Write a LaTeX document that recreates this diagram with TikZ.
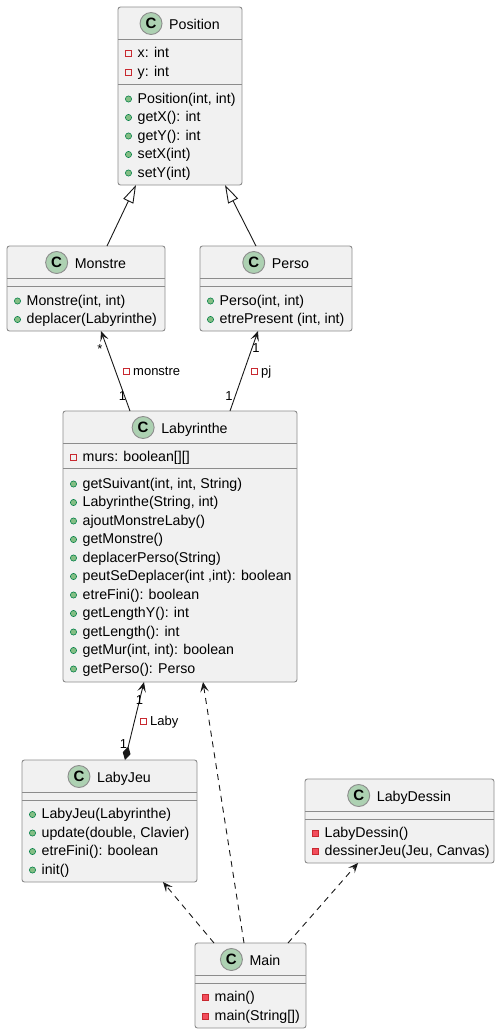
\documentclass[tikz,border=0pt]{standalone}
\usepackage{fontspec}
\setmainfont{Liberation Sans}
\usetikzlibrary{arrows.meta}
\definecolor{boxfill}{HTML}{F1F1F1}
\definecolor{boxline}{HTML}{8C8C8C}
\definecolor{arrline}{HTML}{181818}
\definecolor{spotfill}{HTML}{ADD1B2}
\definecolor{pubfill}{HTML}{84BE84}
\definecolor{publine}{HTML}{038048}
\definecolor{privline}{HTML}{C82930}
\definecolor{privfill}{HTML}{F24D5C}
\tikzset{
  cls/.style={draw=boxline, fill=boxfill, rectangle, rounded corners=2.5pt, line width=0.9pt, inner sep=0pt, outer sep=0pt},
  sepline/.style={draw=boxline, line width=0.9pt},
  member/.style={anchor=base west, inner sep=0pt, font=\fontsize{14.2pt}{16pt}\selectfont},
  ctitle/.style={anchor=base, inner sep=0pt, font=\fontsize{14.2pt}{16pt}\selectfont},
  spot/.style={circle, draw=boxline, fill=spotfill, line width=0.9pt, minimum size=22pt, inner sep=0pt, font=\fontsize{15pt}{15pt}\bfseries},
  lbl/.style={anchor=base, inner sep=0pt, font=\fontsize{13pt}{15pt}\selectfont},
  lbltext/.style={anchor=base west, inner sep=0pt, font=\fontsize{13pt}{15pt}\selectfont},
  conn/.style={draw=arrline, line width=0.9pt},
  navtip/.style={-{Stealth[length=10pt,width=8.5pt,inset=4.5pt]}},
  dep/.style={conn, navtip, dash pattern=on 6pt off 5pt},
}
\newcommand\clshead[4]{%
  \node[ctitle] (#1T) at (#2+14.5,#3+22) {#4};
  \node[spot] (#1C) at ([xshift=-18pt,yshift=5.5pt]#1T.base west) {C};
  \draw[sepline] ([yshift=-32pt]#1.north west) -- ([yshift=-32pt]#1.north east);}
\newcommand\secline[2]{%
  \draw[sepline] ([yshift=-#2pt]#1.north west) -- ([yshift=-#2pt]#1.north east);}
\newcommand\pubrow[4]{%
  \filldraw[fill=pubfill, draw=publine, line width=0.6pt] (#2+10.5,#3) circle (3.1pt);
  \node[member] (#1) at (#2+19.5,#3+4) {#4};}
\newcommand\privfld[4]{%
  \draw[draw=privline, line width=0.8pt] (#2+7.5,#3-3) rectangle (#2+13.5,#3+3);
  \node[member] (#1) at (#2+19.5,#3+4) {#4};}
\newcommand\privmth[4]{%
  \filldraw[fill=privfill, draw=privline, line width=0.6pt] (#2+7.5,#3-3) rectangle (#2+13.5,#3+3);
  \node[member] (#1) at (#2+19.5,#3+4) {#4};}
\newcommand\lblsq[2]{%
  \draw[draw=privline, line width=0.8pt] (#1-3,#2-3) rectangle (#1+3,#2+3);}
\begin{document}
\begin{tikzpicture}[x=1pt,y=-1pt]
\useasboundingbox (0,0) rectangle (500,1034);

% ---------- Position ----------
\node[cls, minimum width=124pt, minimum height=178pt] (position) at (180,96) {};
\clshead{position}{180}{7}{Position}
\secline{position}{77}
\privfld{posF1}{118}{53}{x: int}
\privfld{posF2}{118}{72}{y: int}
\pubrow{posM1}{118}{99}{Position(int, int)}
\pubrow{posM2}{118}{117.5}{getX(): int}
\pubrow{posM3}{118}{136}{getY(): int}
\pubrow{posM4}{118}{154.5}{setX(int)}
\pubrow{posM5}{118}{173}{setY(int)}

% ---------- Monstre ----------
\node[cls, minimum width=158pt, minimum height=85pt] (monstre) at (86,288.5) {};
\clshead{monstre}{86}{246}{Monstre}
\secline{monstre}{40}
\pubrow{monM1}{7}{301}{Monstre(int, int)}
\pubrow{monM2}{7}{319.5}{deplacer(Labyrinthe)}

% ---------- Perso ----------
\node[cls, minimum width=152pt, minimum height=85pt] (perso) at (276,288.5) {};
\clshead{perso}{276}{246}{Perso}
\secline{perso}{40}
\pubrow{perM1}{200}{301}{Perso(int, int)}
\pubrow{perM2}{200}{319.5}{etrePresent (int, int)}

% ---------- Labyrinthe ----------
\node[cls, minimum width=234pt, minimum height=271pt] (laby) at (180,546.5) {};
\clshead{laby}{180}{411}{Labyrinthe}
\secline{laby}{57}
\privfld{labF1}{63}{457}{murs: boolean[][]}
\pubrow{labM1}{63}{484}{getSuivant(int, int, String)}
\pubrow{labM2}{63}{502.5}{Labyrinthe(String, int)}
\pubrow{labM3}{63}{521}{ajoutMonstreLaby()}
\pubrow{labM4}{63}{539.5}{getMonstre()}
\pubrow{labM5}{63}{558}{deplacerPerso(String)}
\pubrow{labM6}{63}{576.5}{peutSeDeplacer(int ,int): boolean}
\pubrow{labM7}{63}{595}{etreFini(): boolean}
\pubrow{labM8}{63}{613.5}{getLengthY(): int}
\pubrow{labM9}{63}{632}{getLength(): int}
\pubrow{labM10}{63}{650.5}{getMur(int, int): boolean}
\pubrow{labM11}{63}{669}{getPerso(): Perso}

% ---------- LabyJeu ----------
\node[cls, minimum width=175pt, minimum height=122pt] (labyjeu) at (109.5,821) {};
\clshead{labyjeu}{109.5}{760}{LabyJeu}
\secline{labyjeu}{40}
\pubrow{ljM1}{22}{814.5}{LabyJeu(Labyrinthe)}
\pubrow{ljM2}{22}{833}{update(double, Clavier)}
\pubrow{ljM3}{22}{851.5}{etreFini(): boolean}
\pubrow{ljM4}{22}{870}{init()}

% ---------- LabyDessin ----------
\node[cls, minimum width=189pt, minimum height=84pt] (labydessin) at (399.5,821) {};
\clshead{labydessin}{399.5}{779}{LabyDessin}
\secline{labydessin}{40}
\privmth{ldM1}{305}{833}{LabyDessin()}
\privmth{ldM2}{305}{851.5}{dessinerJeu(Jeu, Canvas)}

% ---------- Main ----------
\node[cls, minimum width=111pt, minimum height=85pt] (main) at (250.5,985.5) {};
\clshead{main}{250.5}{943}{Main}
\secline{main}{40}
\privmth{mnM1}{195}{997.5}{main()}
\privmth{mnM2}{195}{1016}{main(String[])}

% ---------- connectors ----------
% inheritance
\draw[conn, -{Triangle[length=18pt,width=11pt,fill=white]}] ([xshift=21pt]monstre.north) -- ([xshift=-44pt]position.south);
\draw[conn, -{Triangle[length=18pt,width=11pt,fill=white]}] ([xshift=-20pt]perso.north) -- ([xshift=45pt]position.south);
% associations
\draw[conn, navtip] ([xshift=-50pt]laby.north) -- ([xshift=15pt]monstre.south);
\draw[conn, navtip] ([xshift=50pt]laby.north) -- ([xshift=-18pt]perso.south);
% composition
\draw[conn, {Diamond[length=14pt,width=8pt]}-{Stealth[length=10pt,width=8.5pt,inset=4.5pt]}] ([xshift=15.5pt]labyjeu.north) -- ([xshift=-36pt]laby.south);
% dependencies
\draw[dep] ([xshift=-6.5pt]main.north) -- ([xshift=23pt]laby.south);
\draw[dep] ([xshift=-36.5pt]main.north) -- ([xshift=53.5pt]labyjeu.south);
\draw[dep] ([xshift=37.5pt]main.north) -- ([xshift=-41.5pt]labydessin.south);

% ---------- labels ----------
\node[lbl] (mulA) at (100,353) {*};
\node[lbl] (mulB) at (122.5,400) {1};
\lblsq{126.5}{371.5}
\node[lbltext] (lblMon) at (133,375.5) {monstre};
\node[lbl] (mulC) at (256,352) {1};
\node[lbl] (mulD) at (229,400) {1};
\lblsq{254.5}{371.5}
\node[lbltext] (lblPj) at (261,375.5) {pj};
\node[lbl] (mulE) at (139.5,704) {1};
\node[lbl] (mulF) at (123.5,748) {1};
\lblsq{143.5}{721.5}
\node[lbltext] (lblLaby) at (150,725.5) {Laby};
\end{tikzpicture}
\end{document}
